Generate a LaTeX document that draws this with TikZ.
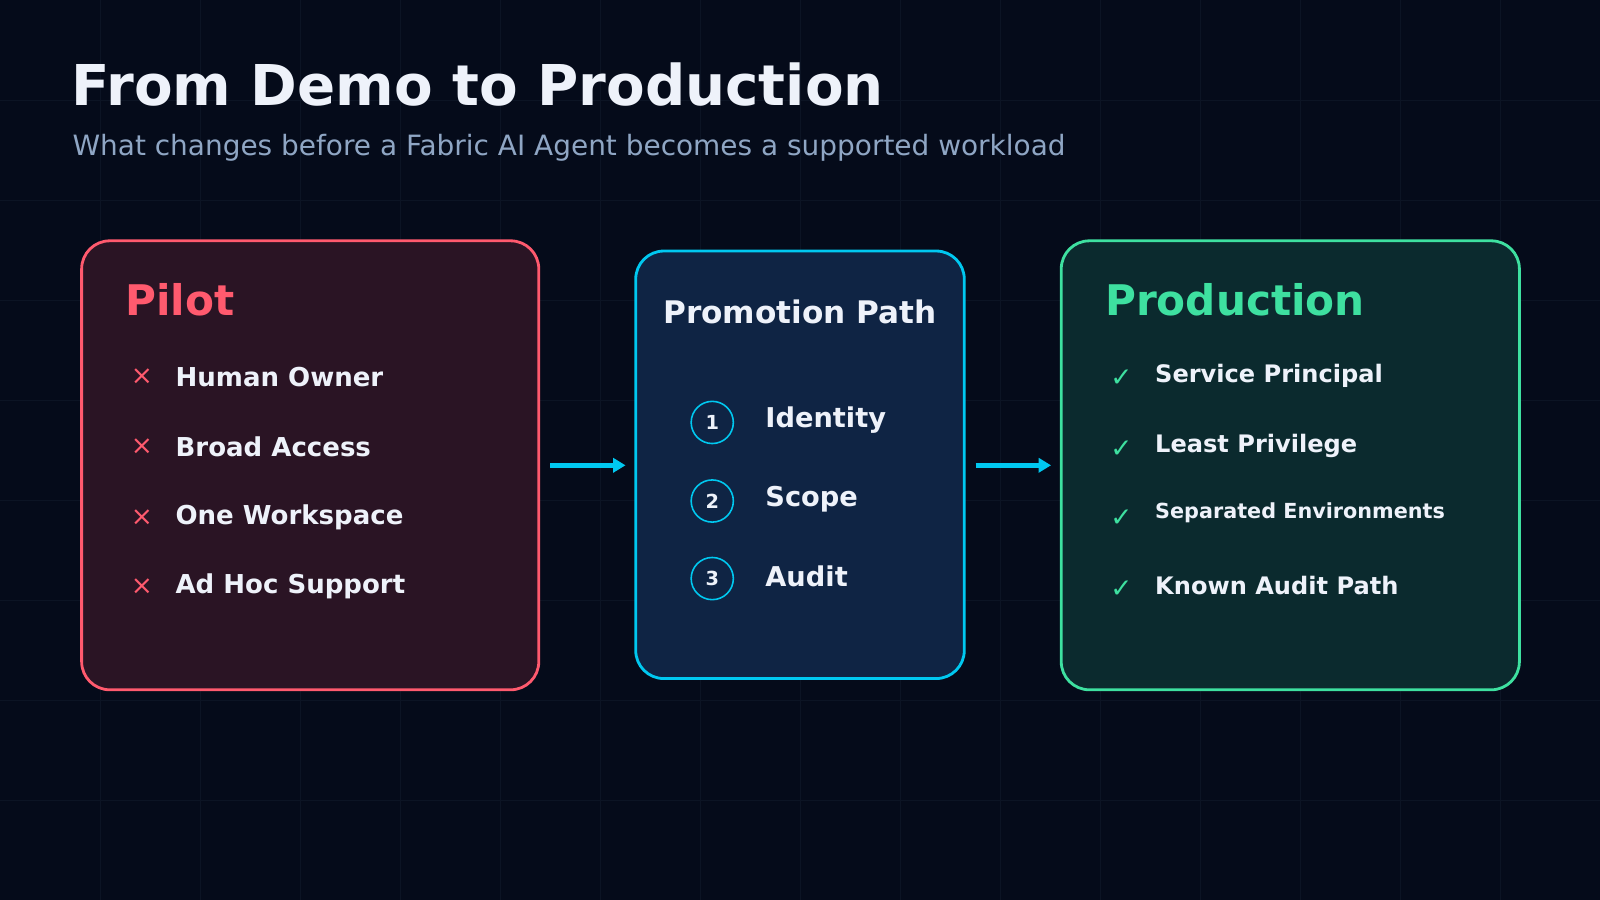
\documentclass[tikz,border=0pt]{standalone}
\usepackage{fontspec}
\setmainfont{DejaVu Sans}
\usetikzlibrary{positioning, arrows.meta}
\definecolor{bgdark}{HTML}{050B1A}
\definecolor{gridline}{HTML}{0C1424}
\definecolor{pilotred}{HTML}{FF5A6E}
\definecolor{pilotfill}{HTML}{2A1424}
\definecolor{pathcyan}{HTML}{00C8F0}
\definecolor{pathfill}{HTML}{0F2444}
\definecolor{prodgreen}{HTML}{3EE0A0}
\definecolor{prodfill}{HTML}{0B2A2E}
\definecolor{subgrey}{HTML}{8FA6C4}
\definecolor{textwhite}{HTML}{EEF2FA}
\tikzset{
    panel/.style={draw, line width=1.6pt, rounded corners=16pt},
    heading/.style={anchor=west, font=\bfseries\fontsize{24}{28}\selectfont},
    item/.style={anchor=west, text=textwhite, font=\bfseries\fontsize{14.8}{17}\selectfont},
    tickmark/.style={anchor=center, font=\fontsize{15}{17}\selectfont},
    stepcircle/.style={circle, draw=pathcyan, line width=0.9pt, minimum size=24pt, inner sep=0pt,
        text=textwhite, font=\bfseries\fontsize{11}{13}\selectfont},
    flow/.style={-{Triangle[length=7pt,width=8pt]}, draw=pathcyan, line width=2.6pt}
}
\begin{document}
\begin{tikzpicture}[x=0.0204cm, y=-0.0204cm]
    % --- BACKGROUND ---
    \fill[bgdark] (0,0) rectangle (1568,882);
    \useasboundingbox (0,0) rectangle (1568,882);
    \foreach \gx in {98,196,...,1568} \draw[gridline, line width=0.4pt] (\gx,0) -- (\gx,882);
    \foreach \gy in {98,196,...,882} \draw[gridline, line width=0.4pt] (0,\gy) -- (1568,\gy);

    % --- TITLE ---
    \node[anchor=base west, text=textwhite, font=\bfseries\fontsize{32}{36}\selectfont] (title) at (64,103) {From Demo to Production};
    \node[anchor=base west, text=subgrey, font=\fontsize{15.9}{19}\selectfont] (subtitle) at (65,152) {What changes before a Fabric AI Agent becomes a supported workload};

    % --- PANELS ---
    \draw[panel, draw=pilotred, fill=pilotfill] (80,236) rectangle (528,676);
    \draw[panel, draw=pathcyan, fill=pathfill] (623,246) rectangle (945,665);
    \draw[panel, draw=prodgreen, fill=prodfill] (1040,236) rectangle (1489,676);
    \coordinate (pilotE) at (539,456);
    \coordinate (pathW) at (613,456);
    \coordinate (pathE) at (956,456);
    \coordinate (prodW) at (1030,456);

    % --- PILOT ---
    \node[heading, text=pilotred] (pilot) at (117,294) {Pilot};
    \foreach \y/\t [count=\i] in {369/Human Owner, 438/Broad Access, 507/One Workspace, 575/Ad Hoc Support} {
        \node[tickmark, text=pilotred] (px\i) at (139,\y) {×};
        \node[item] (pi\i) at (166,\y) {\t};
    }

    % --- PROMOTION PATH ---
    \node[text=textwhite, font=\bfseries\fontsize{17.7}{21}\selectfont] (promo) at (784,306) {Promotion Path};
    \foreach \y/\t [count=\i] in {414/Identity, 491/Scope, 567/Audit} {
        \node[stepcircle] (s\i) at (698,\y) {\i};
        \node[item, font=\bfseries\fontsize{15.5}{18}\selectfont] (st\i) at (744,\y-2) {\t};
    }

    % --- PRODUCTION ---
    \node[heading, text=prodgreen] (prod) at (1077,294) {Production};
    \foreach \y/\t [count=\i] in {368/Service Principal, 437/Least Privilege, 574/Known Audit Path} {
        \node[tickmark, text=prodgreen] (pc\i) at (1099,\y+3) {✓};
        \node[item, font=\bfseries\fontsize{13.7}{16}\selectfont] (pr\i) at (1126,\y) {\t};
    }
    \node[tickmark, text=prodgreen] (pc4) at (1099,508) {✓};
    \node[item, font=\bfseries\fontsize{11.8}{14}\selectfont] (pr4) at (1126,503) {Separated Environments};

    % --- ARROWS ---
    \draw[flow] (pilotE) -- (pathW);
    \draw[flow] (pathE) -- (prodW);
\end{tikzpicture}
\end{document}
